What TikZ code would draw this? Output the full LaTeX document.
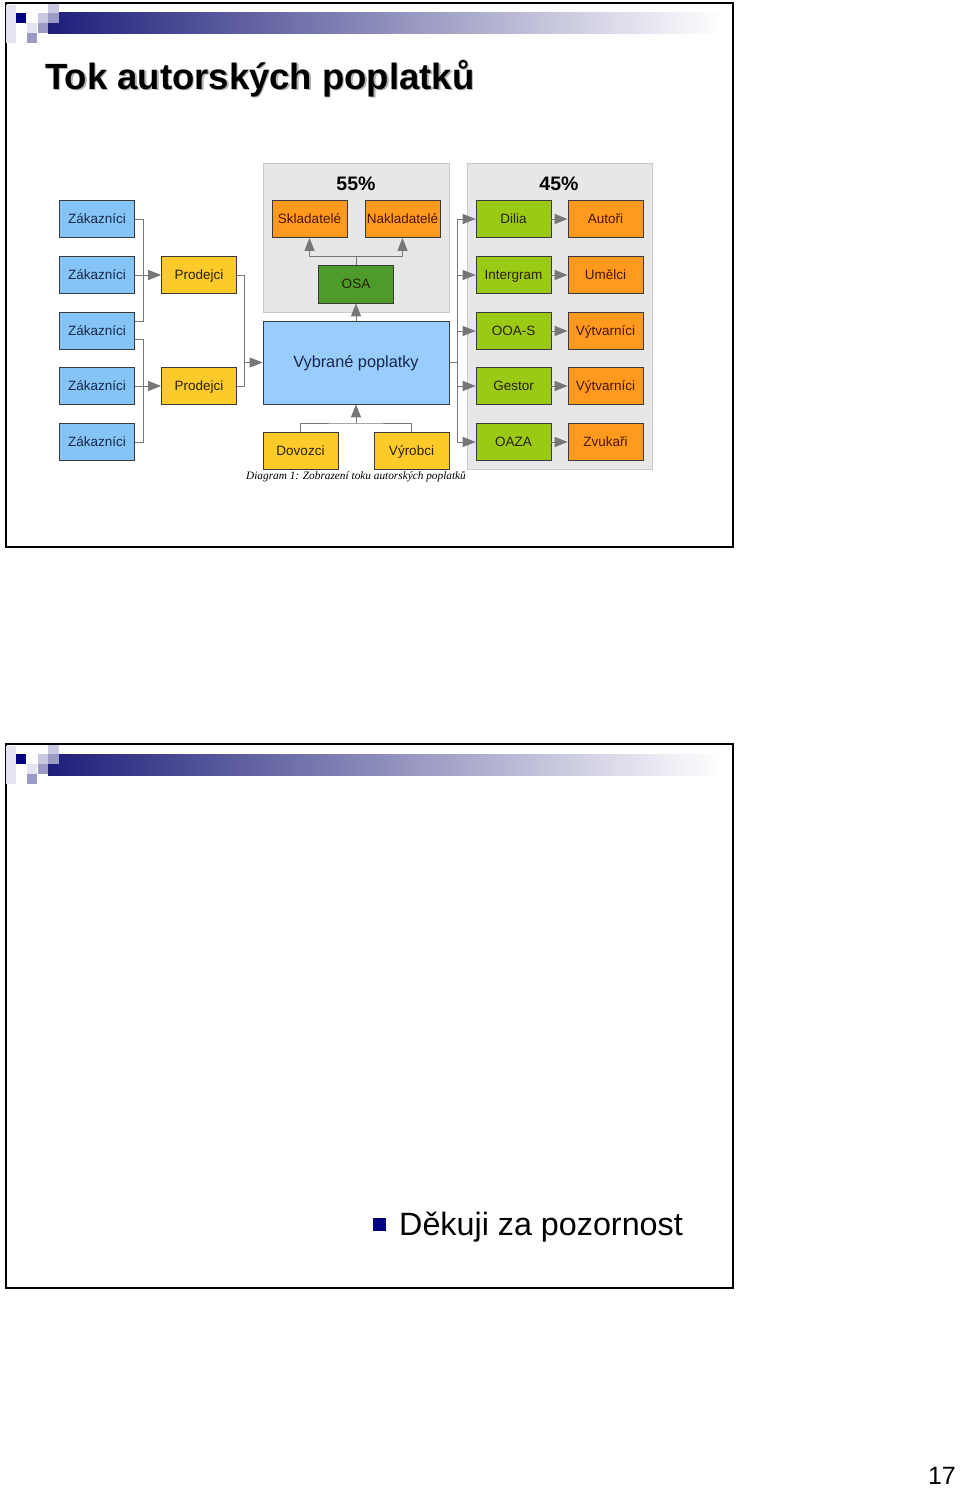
\documentclass[tikz,border=0pt]{standalone}
\usepackage{fontspec}
\setmainfont{Liberation Sans}
\newfontfamily\capserif{Liberation Serif}
\usetikzlibrary{arrows.meta,calc}
\definecolor{navy}{HTML}{1E1E7A}
\definecolor{sqdark}{HTML}{000080}
\definecolor{sqa}{HTML}{E4E4F0}
\definecolor{sqb}{HTML}{C8C8E0}
\definecolor{sqc}{HTML}{9A9AC4}
\definecolor{boxline}{HTML}{3A3A3A}
\definecolor{cblue}{HTML}{86C4F6}
\definecolor{cblue2}{HTML}{99CCFF}
\definecolor{cyellow}{HTML}{FCCB2A}
\definecolor{corange}{HTML}{FF9A1E}
\definecolor{cgreen}{HTML}{9ACA14}
\definecolor{cdgreen}{HTML}{4E9A2A}
\definecolor{cpanel}{HTML}{E7E7E7}
\definecolor{cpanelline}{HTML}{CACACA}
\definecolor{conn}{HTML}{777777}
\definecolor{tblue}{HTML}{17284A}
\definecolor{tbrown}{HTML}{4A1400}
\definecolor{tdark}{HTML}{2A2000}
\tikzset{
  bx/.style={draw=boxline, line width=0.7pt, minimum width=75pt, minimum height=37pt, inner sep=0pt, text height=10pt, text depth=1pt, font=\fontsize{13.5}{15}\selectfont},
  zak/.style={bx, fill=cblue, text=tblue},
  prod/.style={bx, fill=cyellow, text=tdark},
  oran/.style={bx, fill=corange, text=tbrown},
  grn/.style={bx, fill=cgreen, text=tdark},
  wire/.style={draw=conn, line width=1pt},
  arr/.style={wire, -{Triangle[length=13pt,width=10pt]}},
  panel/.style={fill=cpanel, draw=cpanelline, line width=0.6pt},
}
\newcommand{\slidehead}[1]{%
  \begin{scope}[yshift=-#1pt]
    \shade[left color=navy, right color=white] (48,13) rectangle (722,34);
    \fill[sqa] (6,5) rectangle (16,43);
    \fill[sqdark] (16,13) rectangle (26,23);
    \fill[sqb] (38,13) rectangle (48,23);
    \fill[sqb] (48,4) rectangle (59,13);
    \fill[sqc] (48,13) rectangle (59,23);
    \fill[sqa] (27,23) rectangle (37,33);
    \fill[sqc] (38,23) rectangle (48,33);
    \fill[sqc] (27,33) rectangle (37,43);
  \end{scope}}
\begin{document}
\begin{tikzpicture}[x=1pt,y=-1pt]
\useasboundingbox (0,0) rectangle (960,1488);
\fill[white] (0,0) rectangle (960,1488);
% slide frames
\draw[line width=1.8pt] (6,3) rectangle (733,547);
\draw[line width=1.8pt] (6,744) rectangle (733,1288);
\slidehead{0}
\slidehead{741}
% title
\node[anchor=base west, inner sep=0, text=black!30, font=\fontsize{36.5}{40}\selectfont\bfseries] at (46.5,90.5) {Tok autorských poplatků};
\node[anchor=base west, inner sep=0, font=\fontsize{36.5}{40}\selectfont\bfseries] (title) at (45,89) {Tok autorských poplatků};
% panels
\draw[panel] (263,163) rectangle (449,312);
\draw[panel] (467,163) rectangle (652,469);
\node[font=\fontsize{19.5}{20}\selectfont\bfseries] (p55) at (356,183.5) {55\%};
\node[font=\fontsize{19.5}{20}\selectfont\bfseries] (p45) at (559,183.5) {45\%};
% left column
\node[zak] (z1) at (97,219) {Zákazníci};
\node[zak] (z2) at (97,275) {Zákazníci};
\node[zak] (z3) at (97,331) {Zákazníci};
\node[zak] (z4) at (97,386) {Zákazníci};
\node[zak] (z5) at (97,442) {Zákazníci};
\node[prod] (p1) at (199,275) {Prodejci};
\node[prod] (p2) at (199,386) {Prodejci};
% middle
\node[oran] (skl) at (309.5,219) {Skladatelé};
\node[oran] (nak) at (402.5,219) {Nakladatelé};
\node[bx, fill=cdgreen, text=tdark, minimum height=38pt] (osa) at (356,284) {OSA};
\node[bx, fill=cblue2, text=tblue, minimum width=186pt, minimum height=83pt, text height=12pt, text depth=2pt, font=\fontsize{16.3}{18}\selectfont] (vyb) at (356,362.5) {Vybrané poplatky};
\node[prod] (dov) at (300.5,450.5) {Dovozci};
\node[prod] (vyr) at (411.5,450.5) {Výrobci};
\node[font=\capserif\itshape\fontsize{11.3}{12}\selectfont, inner sep=0] (cap) at (356,477) {Diagram 1: Zobrazení toku autorských poplatků};
% right
\node[grn] (g1) at (513.5,219) {Dilia};
\node[grn] (g2) at (513.5,275) {Intergram};
\node[grn] (g3) at (513.5,331) {OOA-S};
\node[grn] (g4) at (513.5,386) {Gestor};
\node[grn] (g5) at (513.5,442) {OAZA};
\node[oran] (o1) at (605.5,219) {Autoři};
\node[oran] (o2) at (605.5,275) {Umělci};
\node[oran] (o3) at (605.5,331) {Výtvarníci};
\node[oran] (o4) at (605.5,386) {Výtvarníci};
\node[oran] (o5) at (605.5,442) {Zvukaři};
% connectors left
\draw[wire] (z1.east) -- ++(9,0) |- ([yshift=10pt]z3.east);
\draw[wire] ([yshift=-8pt]z3.east) -- ++(9,0) |- (z5.east);
\draw[arr] (z2.east) -- (p1.west);
\draw[arr] (z4.east) -- (p2.west);
\draw[wire] (p1.east) -- ++(8,0) |- (p2.east);
\coordinate (pj) at (244,362.5);
\draw[arr] (pj) -- (vyb.west);
% connectors middle
\coordinate (oj) at (356,256);
\draw[wire] (osa.north) -- (oj);
\draw[arr] (oj) -| (skl.south);
\draw[arr] (oj) -| (nak.south);
\draw[arr] (vyb.north) -- (osa.south);
\coordinate (bj) at (356,423);
\draw[wire] (dov.north) |- (bj) -| (vyr.north);
\draw[arr] (bj) -- (vyb.south);
% connectors right
\coordinate (rb) at (457,362.5);
\draw[wire] (vyb.east) -- (rb);
\draw[wire] (g1.west -| rb) -- (g5.west -| rb);
\foreach \i in {1,...,5}{
  \draw[arr] (g\i.west -| rb) -- (g\i.west);
  \draw[arr] (g\i.east) -- (o\i.west);
}
% slide 2
\fill[sqdark] (373,1218) rectangle (386,1231);
\node[anchor=base west, inner sep=0, font=\fontsize{32.3}{36}\selectfont] (thanks) at (399,1235) {Děkuji za pozornost};
\node[anchor=base east, inner sep=0, font=\fontsize{25}{28}\selectfont] (pg) at (956,1484) {17};
\end{tikzpicture}
\end{document}
